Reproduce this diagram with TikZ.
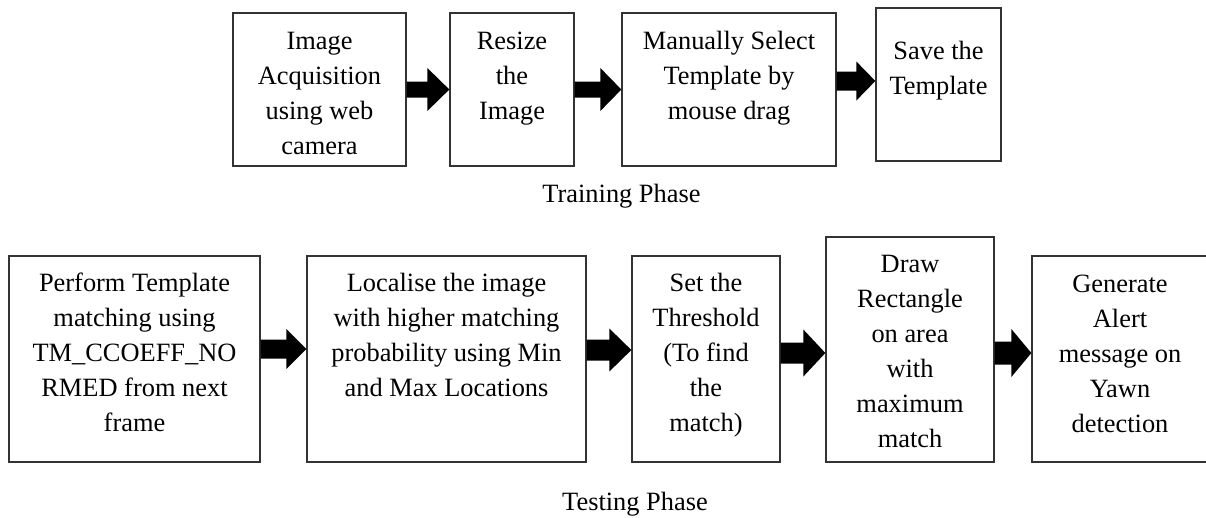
\documentclass[tikz,border=0pt]{standalone}
\usepackage{fontspec}
\setmainfont{Liberation Serif}
\usetikzlibrary{calc}

% Block arrow between two points: #1 start, #2 end (only x of #2 is used),
% #3 half shaft thickness, #4 half head width, #5 head length
\newcommand\blockarrow[5]{%
  \fill[black] let \p1=#1, \p2=#2 in
    (\x1,\y1+#3) -- (\x2-#5,\y1+#3) -- (\x2-#5,\y1+#4) -- (\x2,\y1)
    -- (\x2-#5,\y1-#4) -- (\x2-#5,\y1-#3) -- (\x1,\y1-#3) -- cycle;}

\begin{document}
\begin{tikzpicture}[x=1pt,y=-1pt,
  stagebox/.style={draw=black!80, line width=1.3pt, fill=white, inner sep=0pt},
  % the base anchor of a multi-line text is its last baseline
  stagetext/.style={align=center, inner sep=0pt, anchor=base,
    font=\fontsize{26.4}{35}\selectfont},
  phase/.style={inner sep=0pt, anchor=base, font=\fontsize{26.4}{32}\selectfont}]
\useasboundingbox (0,0) rectangle (1206,517);

% Training phase boxes
\node[stagebox, minimum width=173pt, minimum height=153pt] (b1) at (319.5,89.5) {};
\node[stagebox, minimum width=124pt, minimum height=153pt] (b2) at (512,89.5) {};
\node[stagebox, minimum width=214pt, minimum height=153pt] (b3) at (729,89.5) {};
\node[stagebox, minimum width=125pt, minimum height=153pt] (b4) at (938.5,84.5) {};

\node[stagetext] (t1) at ([yshift=-142pt]b1.north) {Image\\Acquisition\\using web\\camera};
\node[stagetext] (t2) at ([yshift=-107pt]b2.north) {Resize\\the\\Image};
\node[stagetext] (t3) at ([yshift=-107pt]b3.north) {Manually Select\\Template by\\mouse drag};
\node[stagetext] (t4) at ([yshift=-87pt]b4.north) {Save the\\Template};

\node[phase] (train) at (621.5,202) {Training Phase};

% Testing phase boxes
\node[stagebox, minimum width=251pt, minimum height=206pt] (b5) at (134.5,359) {};
\node[stagebox, minimum width=279pt, minimum height=206pt] (b6) at (446.5,359) {};
\node[stagebox, minimum width=148pt, minimum height=206pt] (b7) at (706,359) {};
\node[stagebox, minimum width=168pt, minimum height=225pt] (b8) at (910,349.5) {};
\node[stagebox, minimum width=176pt, minimum height=206pt] (b9) at (1120,359) {};

\node[stagetext] (t5) at ([yshift=-176pt]b5.north) {Perform Template\\matching using\\TM\_CCOEFF\_NO\\RMED from next\\frame};
\node[stagetext] (t6) at ([yshift=-141pt]b6.north) {Localise the image\\with higher matching\\probability using Min\\and Max Locations};
\node[stagetext] (t7) at ([yshift=-176pt]b7.north) {Set the\\Threshold\\(To find\\the\\match)};
\node[stagetext] (t8) at ([yshift=-211pt]b8.north) {Draw\\Rectangle\\on area\\with\\maximum\\match};
\node[stagetext] (t9) at ([yshift=-177pt]b9.north) {Generate\\Alert\\message on\\Yawn\\detection};

\node[phase] (test) at (635,510) {Testing Phase};

% Connectors
\blockarrow{(b1.east)}{(b2.west)}{8pt}{21.5pt}{22pt}
\blockarrow{(b2.east)}{(b3.west)}{8pt}{21.5pt}{21pt}
\blockarrow{([yshift=8.5pt]b3.east)}{(b4.west)}{9.5pt}{19.5pt}{19pt}
\blockarrow{([yshift=10pt]b5.east)}{(b6.west)}{9.5pt}{20pt}{20pt}
\blockarrow{([yshift=9pt]b6.east)}{(b7.west)}{10.5pt}{21.5pt}{22pt}
\blockarrow{([yshift=6pt]b7.east)}{(b8.west)}{10.5pt}{23.5pt}{22pt}
\blockarrow{([yshift=-3.5pt]b8.east)}{(b9.west)}{11.5pt}{24pt}{20pt}
\end{tikzpicture}
\end{document}
